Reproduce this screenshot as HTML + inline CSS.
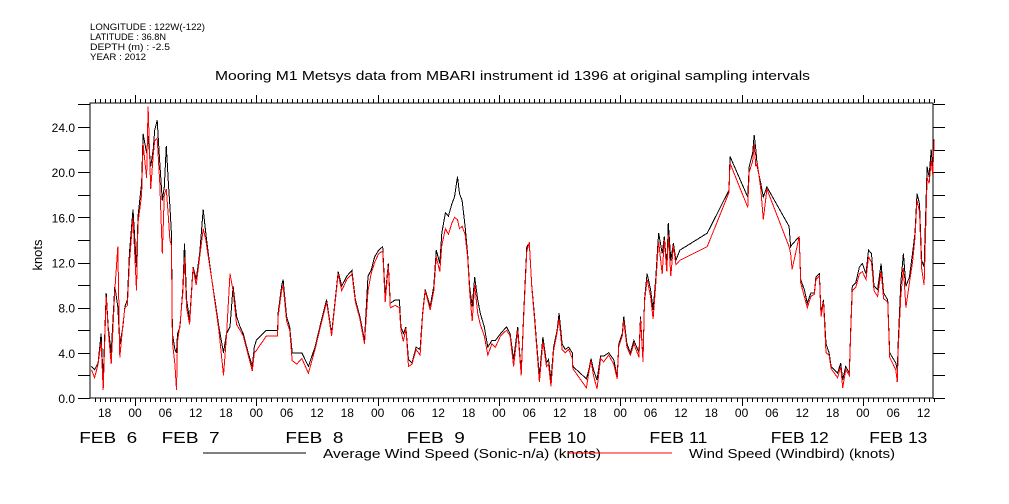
<!DOCTYPE html>
<html><head><meta charset="utf-8"><style>
body{margin:0;background:#fff;}
svg{display:block;font-family:"Liberation Sans","DejaVu Sans",sans-serif;}
</style></head><body>
<svg id="chart" width="1009" height="504" viewBox="0 0 1009 504" xmlns="http://www.w3.org/2000/svg" shape-rendering="crispEdges">
<g font-size="9" fill="#000">
<text x="90" y="30" textLength="115" lengthAdjust="spacingAndGlyphs">LONGITUDE : 122W(-122)</text>
<text x="90" y="40" textLength="76" lengthAdjust="spacingAndGlyphs">LATITUDE : 36.8N</text>
<text x="90" y="50" textLength="80" lengthAdjust="spacingAndGlyphs">DEPTH (m) : -2.5</text>
<text x="90" y="60" textLength="56" lengthAdjust="spacingAndGlyphs">YEAR : 2012</text>
</g>
<text x="215" y="80" font-size="13" textLength="595" lengthAdjust="spacingAndGlyphs">Mooring M1 Metsys data from MBARI instrument id 1396 at original sampling intervals</text>
<g id="axes"></g>
<g id="series"></g>
<text x="42" y="255" font-size="13" text-anchor="middle" transform="rotate(-90 42 255)">knots</text>
<g>
<line x1="203" y1="453" x2="306" y2="453" stroke="#000" stroke-width="1"/>
<text x="323" y="458" font-size="13" textLength="278" lengthAdjust="spacingAndGlyphs">Average Wind Speed (Sonic-n/a) (knots)</text>
<line x1="568" y1="453" x2="672" y2="453" stroke="#f00" stroke-width="1"/>
<text x="689" y="458" font-size="13" textLength="206" lengthAdjust="spacingAndGlyphs">Wind Speed (Windbird) (knots)</text>
</g>
</svg>
<script>
// hours relative to FEB 7 00:00
const hours=[-8.6,-8.0,-7.3,-6.7,-6.3,-5.7,-5.3,-4.7,-4.0,-3.4,-3.0,-2.4,-2.0,-1.5,-1.1,-0.4,0.3,0.6,1.3,1.6,2.3,2.6,3.1,3.6,3.9,4.4,4.9,5.4,5.8,6.2,6.6,6.9,7.2,7.4,7.9,8.2,8.4,8.9,9.5,9.8,10.2,10.8,11.5,12.1,12.8,13.5,14.0,14.5,15.2,15.8,16.6,17.5,18.1,18.8,19.4,20.1,20.8,21.4,22.4,23.2,23.6,24.0,26.0,28.2,28.3,29.0,29.3,30.0,30.6,31.1,32.0,33.0,34.3,35.6,36.9,37.9,38.9,39.6,40.2,40.9,41.9,42.9,43.6,44.5,45.4,46.1,46.7,47.4,48.2,49.0,49.5,50.1,50.5,51.5,52.3,52.6,53.1,53.6,54.1,54.8,55.6,56.4,56.9,57.4,58.4,59.1,59.6,60.3,60.7,61.4,62.0,62.7,63.2,63.8,64.2,64.7,65.3,65.8,66.2,66.7,67.2,67.8,68.3,69.1,69.8,70.6,71.3,72.3,73.5,74.2,74.9,75.7,76.4,76.9,77.5,78.0,78.5,79.0,79.4,80.0,80.7,81.4,81.8,82.3,82.8,83.5,83.9,84.5,85.1,85.8,86.5,86.6,89.3,89.8,90.2,90.7,91.4,92.1,92.7,93.7,94.7,95.4,95.7,96.4,96.7,97.3,98.0,98.7,99.7,100.0,100.5,100.8,101.3,102.0,102.5,103.0,103.4,103.6,104.3,104.7,105.2,105.5,106.0,106.5,107.0,107.8,113.2,117.5,117.7,121.2,121.5,122.2,122.5,122.8,123.1,123.8,124.3,125.0,129.4,129.7,130.0,131.4,131.7,132.4,133.0,133.7,134.4,134.7,135.4,135.7,136.2,136.7,137.3,137.7,139.0,139.6,140.0,140.6,141.3,141.6,141.9,142.6,143.3,143.9,144.6,145.1,145.7,146.2,146.9,147.6,148.1,148.9,149.3,150.5,150.8,151.0,151.5,152.0,152.5,153.2,153.8,154.3,154.7,155.2,155.6,156.1,156.7,157.1,157.5,157.8,158.1];
const avgSpeed=[2.8,2.5,3.1,5.7,1.6,9.3,6.3,4.0,9.9,8.1,4.8,6.3,8.1,8.7,12.8,16.7,11.6,16.1,19.0,23.4,21.7,23.2,20.5,22.0,23.7,24.6,20.8,17.5,18.7,22.3,19.0,17.0,14.6,5.7,4.3,4.0,5.7,6.3,9.9,13.7,8.7,6.9,11.6,10.5,12.8,16.7,14.6,12.8,10.5,8.7,6.3,4.0,5.7,6.3,9.9,7.2,6.3,5.7,4.0,2.8,4.5,5.1,6.0,6.0,7.5,9.9,10.5,7.2,6.3,4.0,4.0,4.0,2.8,4.5,6.9,8.7,5.7,8.7,11.2,9.9,10.8,11.3,8.7,7.2,5.1,10.8,11.3,12.5,13.1,13.4,9.0,11.9,8.4,8.7,8.7,6.3,5.7,6.3,3.4,3.1,4.5,4.3,7.5,9.6,8.1,9.9,13.1,11.9,14.6,16.4,16.1,17.2,17.8,19.6,18.1,17.5,15.2,12.8,9.9,8.1,10.7,8.7,7.5,6.3,4.5,5.1,5.1,5.7,6.3,5.7,3.4,6.3,2.2,7.5,13.4,13.7,9.9,7.5,5.1,1.9,5.4,3.1,3.4,1.6,4.5,6.0,7.5,4.8,4.3,4.5,4.0,2.8,1.7,2.5,3.5,2.5,1.6,3.7,3.7,4.0,3.4,1.9,4.8,5.7,7.2,4.8,4.0,5.1,4.0,7.2,3.4,8.7,11.0,9.6,7.8,10.5,13.4,14.6,12.8,14.3,11.6,15.5,12.2,13.7,12.2,13.1,14.6,18.4,21.4,17.8,20.5,21.7,23.3,22.0,20.5,19.0,17.8,18.7,15.2,13.4,13.6,14.3,10.5,9.6,8.4,9.3,9.3,10.7,11.0,7.5,8.7,4.8,4.0,2.8,2.2,3.1,1.6,2.8,2.2,6.3,9.9,10.2,11.6,11.9,11.0,13.1,12.8,9.9,9.6,11.9,9.3,8.7,4.0,3.1,2.5,5.1,10.2,12.8,9.9,10.7,12.8,14.6,18.1,17.2,12.2,11.6,20.5,19.6,22.0,20.2,22.9];
const windbirdSpeed=[2.5,1.8,3.0,5.0,0.7,9.0,6.0,3.0,9.5,13.4,3.6,6.5,8.0,8.2,12.0,16.0,9.5,15.5,18.0,22.5,19.5,25.8,18.5,21.5,22.8,23.0,19.0,12.8,18.0,18.5,16.0,14.0,13.5,5.0,3.0,0.7,5.0,6.5,9.5,12.5,8.0,6.5,11.5,10.0,12.5,15.0,14.0,12.5,10.5,8.5,6.0,2.0,5.5,11.0,9.5,6.5,6.0,5.5,3.8,2.4,4.0,4.2,5.5,5.5,7.2,9.5,10.0,6.8,6.0,3.3,3.0,3.5,2.2,4.3,6.7,8.5,5.5,8.5,11.0,9.5,10.5,11.0,8.5,7.0,4.8,9.5,11.0,12.0,12.8,13.0,8.5,11.7,8.0,8.2,8.0,6.0,5.0,6.2,2.8,3.0,4.3,3.8,7.3,9.5,7.8,9.5,12.5,11.2,13.5,15.0,14.5,15.5,16.0,15.8,15.0,15.2,14.5,12.5,9.5,6.8,10.0,7.5,6.5,5.5,3.8,4.8,4.5,5.5,6.0,5.5,2.8,6.0,2.0,7.2,13.0,13.8,9.8,7.2,4.8,1.4,5.0,2.8,3.0,1.0,4.2,5.8,7.0,4.3,4.0,4.3,3.5,2.6,0.9,2.3,3.3,2.0,0.8,3.5,3.2,3.8,3.0,1.7,4.6,5.5,6.8,4.5,3.8,4.8,3.6,7.0,3.2,8.5,10.5,9.0,7.0,10.0,12.8,13.8,11.0,14.0,11.2,14.5,10.8,13.5,11.8,12.2,13.4,18.2,20.8,16.9,20.0,21.0,22.5,20.5,20.8,18.5,15.8,18.5,13.4,12.8,11.4,14.3,10.2,9.0,8.0,9.0,9.2,10.5,10.8,7.2,8.5,4.0,3.8,2.6,1.8,2.8,0.9,2.5,2.0,6.0,9.5,9.8,11.0,11.2,10.5,12.5,12.0,9.5,9.0,11.2,8.8,8.5,3.6,2.5,1.4,4.5,9.0,11.5,8.0,10.2,12.0,14.2,17.5,16.5,11.5,10.0,19.5,19.0,21.0,19.8,22.8];
const yTickValues=[0,4,8,12,16,20,24];
const hourLabels=["18","00","06","12"];
const dateLabels=["FEB  6","FEB  7","FEB  8","FEB  9","FEB 10","FEB 11","FEB 12","FEB 13"];
const dateLabelHours=[-5.3,11,35.5,59.5,83.5,107.5,131.5,151];

const X0=90,X1=933,Y0=103,Y1=398;
const xOf=h=>135+h*5.055;
const yOf=v=>398-v*11.29;
const NS="http://www.w3.org/2000/svg";
const axes=document.getElementById('axes'),series=document.getElementById('series');
function mk(tag,attrs,parent){const e=document.createElementNS(NS,tag);for(const k in attrs)e.setAttribute(k,attrs[k]);parent.appendChild(e);return e;}

const frame=mk('rect',{x:X0,y:Y0,width:X1-X0,height:Y1-Y0,fill:'none',stroke:'#000','stroke-width':1},axes);



for(let v=0;v<=26;v+=2){
  const y=Math.round(yOf(v))+0.5;
  const tl=mk('line',{x1:78,y1:y,x2:X0,y2:y,stroke:'#000'},axes);
  
  
  const tr=mk('line',{x1:X1,y1:y,x2:X1+12,y2:y,stroke:'#000'},axes);
  
  
}
yTickValues.forEach(v=>{
  const t=mk('text',{x:75,y:yOf(v)+5,'font-size':12,'text-anchor':'end'},axes);
  t.textContent=v.toFixed(1);
  
  
});
for(let h=-8;h<=158;h++){
  const x=Math.round(xOf(h))+0.5;
  const major=((h%24)+24)%24===0;
  const b=mk('line',{x1:x,y1:Y1,x2:x,y2:Y1+(major?8:4),stroke:'#000'},axes);
  
  
  const t=mk('line',{x1:x,y1:Y0,x2:x,y2:Y0-(major?8:4),stroke:'#000'},axes);
  
  
}
for(let h=-6,i=0;h<=156;h+=6,i++){
  const t=mk('text',{x:xOf(h),y:417,'font-size':12,'text-anchor':'middle'},axes);
  t.textContent=hourLabels[i%4];
  
  
}
dateLabels.forEach((d,i)=>{
  const t=mk('text',{x:xOf(dateLabelHours[i])-29,y:443,'font-size':16,textLength:58,lengthAdjust:'spacingAndGlyphs'},axes);
  t.setAttribute('xml:space','preserve');
  t.style.whiteSpace='pre';
  t.textContent=d;
  
  
});
function pts(vals){return hours.map((h,i)=>xOf(h).toFixed(1)+','+yOf(vals[i]).toFixed(1)).join(' ');}
const pb=mk('polyline',{points:pts(avgSpeed),fill:'none',stroke:'#000','stroke-width':1},series);


const pr=mk('polyline',{points:pts(windbirdSpeed),fill:'none',stroke:'#f00','stroke-width':1},series);


</script>
</body></html>
